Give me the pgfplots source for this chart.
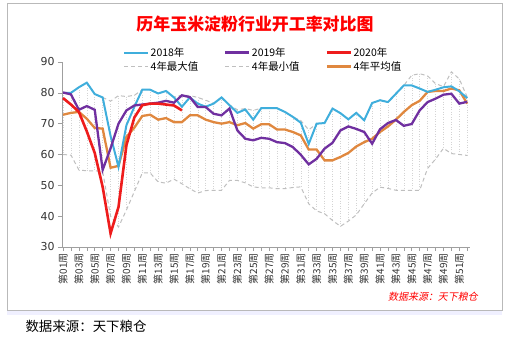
\documentclass[border=0pt]{standalone}
\usepackage{pgfplots}
\pgfplotsset{compat=1.18}
\usepackage{pgfplotstable}
\usepackage{fontspec}
\setmainfont{DejaVu Sans}
\newfontfamily\cjk{Noto Sans CJK SC}
\newfontfamily\cjkit{Noto Sans CJK SC}[FakeSlant=0.2]
\definecolor{c18}{HTML}{3FAEDC}
\definecolor{c19}{HTML}{7030A0}
\definecolor{c20}{HTML}{EE1C1C}
\definecolor{cavg}{HTML}{E0883F}
\definecolor{cgr}{HTML}{BFBFBF}
\definecolor{chl}{HTML}{D4D4D4}
\pgfplotstableread{
w  a18  a19  mx  mn  avg
1 80.0 80.1 80.2 60.0 72.9
2 80.0 79.5 80.1 59.8 73.5
3 81.8 74.5 81.8 55.0 73.8
4 83.3 75.7 83.3 54.7 71.6
5 79.6 74.5 79.6 54.7 68.6
6 78.5 55.0 78.5 54.5 68.4
7 66.0 62.0 77.3 40.0 55.7
8 56.0 70.0 79.1 36.5 56.3
9 69.5 74.3 78.8 42.0 65.7
10 75.5 75.9 79.2 48.0 68.7
11 81.0 76.2 81.0 54.0 72.5
12 81.0 76.5 81.0 54.0 72.9
13 79.8 76.8 79.8 51.1 71.3
14 80.6 77.4 80.6 50.7 71.8
15 78.5 76.8 78.6 52.0 70.5
16 75.5 79.2 79.3 50.5 70.5
17 78.5 78.6 79.1 48.9 72.7
18 76.5 75.4 78.5 47.5 72.7
19 75.5 75.4 77.6 48.3 71.3
20 76.5 73.2 76.6 48.4 70.5
21 78.5 72.7 78.5 48.4 70.0
22 76.0 74.9 76.1 51.6 70.5
23 73.5 67.8 74.5 51.6 69.5
24 74.6 65.1 74.9 50.8 70.2
25 71.3 64.6 74.3 49.5 68.4
26 75.0 65.4 75.0 49.2 69.8
27 75.0 65.1 75.0 49.2 69.8
28 75.0 64.0 75.0 48.9 68.1
29 73.8 63.7 73.8 48.9 68.1
30 72.2 62.4 72.2 49.3 67.3
31 70.3 59.9 71.0 49.5 66.2
32 63.4 56.8 68.0 44.0 61.6
33 70.0 58.6 70.0 41.7 61.6
34 70.2 61.9 70.2 40.8 58.1
35 74.9 63.8 74.9 38.6 58.1
36 73.4 67.8 73.4 36.7 59.2
37 71.4 69.1 71.4 38.4 60.5
38 73.5 68.3 73.5 40.4 62.6
39 71.1 67.3 71.1 44.0 64.0
40 76.7 63.5 76.7 47.5 65.1
41 77.6 68.2 77.6 49.4 67.3
42 77.0 70.2 77.0 49.0 69.1
43 79.7 71.2 79.7 48.4 71.3
44 82.4 69.3 82.4 48.4 73.8
45 82.4 69.9 85.7 48.4 76.0
46 81.4 74.3 86.2 48.4 77.4
47 80.3 77.0 85.5 55.5 80.3
48 81.0 78.1 83.0 58.5 80.6
49 81.8 79.4 82.0 62.0 80.6
50 82.1 79.7 86.8 60.3 81.4
51 80.5 76.5 84.5 60.0 80.8
52 78.3 77.1 78.6 59.7 76.5
}\data
\pgfplotstableread{
w a20
1 78.3
2 76.2
3 73.8
4 67.5
5 60.5
6 49.5
7 34.4
8 43.0
9 63.0
10 72.0
11 76.0
12 76.5
13 76.5
14 76.2
15 75.9
16 74.3
}\dataB
\begin{document}
\begin{tikzpicture}
\begin{axis}[scale only axis, clip=false,
  width=408bp, height=185bp,
  xmin=0.87, xmax=52.35, ymin=30, ymax=90,
  ytick={30,40,...,90},
  axis x line*=bottom, axis y line*=left,
  axis line style={gray!75, line width=0.6bp},
  every tick/.style={gray!75, line width=0.6bp},
  tick align=outside,
  major tick length=4bp, minor tick length=4bp,
  xtick={1,3,...,51}, minor xtick={2,4,...,52},
  xticklabels={第01周,第03周,第05周,第07周,第09周,第11周,第13周,第15周,第17周,第19周,第21周,第23周,第25周,第27周,第29周,第31周,第33周,第35周,第37周,第39周,第41周,第43周,第45周,第47周,第49周,第51周},
  xticklabel style={rotate=90, anchor=east, font=\cjk\fontsize{10}{11}\selectfont, text=black!80, inner sep=2bp},
  /pgf/number format/assume math mode=true,
  yticklabel style={font=\fontsize{11}{12}\selectfont, text=black!80},
  legend columns=3,
  legend style={at={(0.1495,1.088)}, anchor=north west, draw=none, fill=none,
    font=\cjk\fontsize{10.5}{12}\selectfont, inner sep=0pt, row sep=0.5bp,
    nodes={inner sep=1.5bp}},
  legend cell align=left,
  legend image code/.code={\draw[#1] (0bp,0bp) -- (24bp,0bp);},
]
% bounding box and frame (image px -> axis description cs)
\path (axis description cs:-0.15196,-0.49189) rectangle (axis description cs:1.09804,1.33514);
\fill[blue!6] (axis description cs:-0.13480,-0.34054) rectangle (axis description cs:1.07843,-0.36757);
\draw[gray!55, line width=0.8bp] (axis description cs:-0.13480,-0.34054) rectangle (axis description cs:1.07843,1.31892);
\addplot[forget plot, draw=none, mark=none,
  error bars/.cd, y dir=minus, y explicit, error mark=none,
  error bar style={draw=chl, solid, dash pattern=on 1bp off 1.5bp, line width=0.5bp}]
  table[x=w, y=mx, y error expr=\thisrow{mx}-\thisrow{mn}] {\data};
\addplot[forget plot, cgr, line width=1bp, dash pattern=on 4bp off 3bp] table[x=w, y=mx] {\data};
\addplot[forget plot, cgr, line width=1bp, dash pattern=on 4bp off 3bp] table[x=w, y=mn] {\data};
\addplot[forget plot, cavg, line width=2.3bp] table[x=w, y=avg] {\data};
\addplot[forget plot, c18, line width=2bp] table[x=w, y=a18] {\data};
\addplot[forget plot, c19, line width=2.3bp] table[x=w, y=a19] {\data};
\addplot[forget plot, c20, line width=2.6bp] table[x=w, y=a20] {\dataB};
\addlegendimage{c18, line width=2bp}
\addlegendentry{\makebox[72bp][l]{2018年}}
\addlegendimage{c19, line width=2.3bp}
\addlegendentry{\makebox[72bp][l]{2019年}}
\addlegendimage{c20, line width=2.6bp}
\addlegendentry{\makebox[72bp][l]{2020年}}
\addlegendimage{cgr, line width=1bp, dash pattern=on 4bp off 3bp}
\addlegendentry{\makebox[72bp][l]{4年最大值}}
\addlegendimage{cgr, line width=1bp, dash pattern=on 4bp off 3bp}
\addlegendentry{\makebox[72bp][l]{4年最小值}}
\addlegendimage{cavg, line width=2.3bp}
\addlegendentry{\makebox[72bp][l]{4年平均值}}
\node[text=red, font=\cjk\bfseries\fontsize{17}{20}\selectfont] at (axis description cs:0.47304,1.20622) {历年玉米淀粉行业开工率对比图};
\node[anchor=west, font=\cjk\fontsize{13.5}{15}\selectfont] at (axis description cs:-0.09804,-0.42703) {数据来源：天下粮仓};
\node[text=red, font=\cjkit\fontsize{10}{11}\selectfont] at (axis description cs:0.90931,-0.27027) {数据来源：天下粮仓};
\end{axis}
\end{tikzpicture}
\end{document}
